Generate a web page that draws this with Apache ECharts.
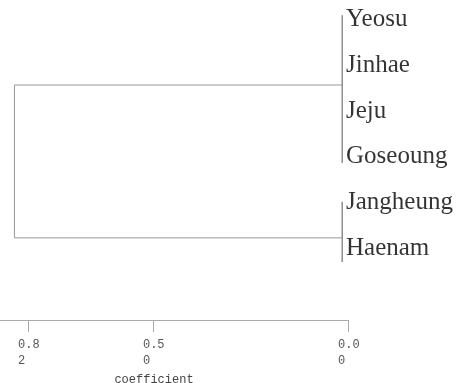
<!DOCTYPE html>
<html>
<head>
<meta charset="utf-8">
<script src="https://cdn.jsdelivr.net/npm/echarts@6/dist/echarts.min.js"></script>
<style>
html,body{margin:0;padding:0;background:#fff;}
#chart{width:458px;height:383px;}
</style>
</head>
<body>
<div id="chart"></div>
<script>
// Leaves (top to bottom) and their row index on the leaf axis
const leafLabels = ['Yeosu', 'Jinhae', 'Jeju', 'Goseoung', 'Jangheung', 'Haenam'];
const leafRows = [0, 1, 2, 3, 4, 5];
const leafCoef = [0, 0, 0, 0, 0, 0];

// First-level clusters: merge coefficient and extent on the leaf axis
const clusterCoef = [0.015, 0.015];
const clusterRowFrom = [-0.08, 4.01];
const clusterRowTo = [3.16, 5.33];
const clusterJoinRow = [1.45, 4.80];

// Root merge coefficient
const rootCoef = 0.855;

// Axis ticks
const tickValues = [0, 0.5, 0.82];
const axisMax = 0.892;
const axisName = 'coefficient';

const series = [];
function seg(p1, p2, color) {
  series.push({
    type: 'line', data: [p1, p2], symbol: 'none', silent: true,
    lineStyle: { color: color, width: 1 }, animation: false, z: 2
  });
}
for (let i = 0; i < clusterCoef.length; i++) {
  seg([clusterCoef[i], clusterRowFrom[i]], [clusterCoef[i], clusterRowTo[i]], '#555');
  seg([clusterCoef[i], clusterJoinRow[i]], [rootCoef, clusterJoinRow[i]], '#999');
}
seg([rootCoef, clusterJoinRow[0]], [rootCoef, clusterJoinRow[clusterJoinRow.length - 1]], '#999');

series.push({
  type: 'scatter', symbolSize: 0, silent: true, animation: false,
  data: leafLabels.map((n, i) => ({ name: n, value: [leafCoef[i], leafRows[i]] })),
  label: {
    show: true, position: 'right', distance: 0, offset: [-2, 1],
    formatter: p => p.name,
    fontFamily: '"Liberation Serif", "Times New Roman", serif',
    fontSize: 25, color: '#000'
  }
});

const chart = echarts.init(document.getElementById('chart'), null, { renderer: 'canvas' });
chart.setOption({
  backgroundColor: '#fff',
  animation: false,
  grid: { left: 0, width: 348, top: -4, bottom: 63, containLabel: false, outerBoundsMode: 'none' },
  xAxis: {
    type: 'value', inverse: true, min: 0, max: axisMax, position: 'bottom',
    name: axisName, nameLocation: 'middle', nameGap: 47,
    nameTextStyle: { fontFamily: '"Liberation Mono", monospace', fontSize: 12, color: '#444', padding: [0, 40, 0, 0] },
    splitLine: { show: false },
    axisLine: { show: true, onZero: false, lineStyle: { color: '#aaa', width: 1 } },
    axisTick: { show: true, customValues: tickValues, length: 12, inside: false, lineStyle: { color: '#aaa' } },
    axisLabel: {
      show: true, customValues: tickValues, margin: 17, align: 'left', padding: [0, 0, 0, -10],
      formatter: v => v.toFixed(2),
      width: 22, overflow: 'breakAll', lineHeight: 16,
      fontFamily: '"Liberation Mono", monospace', fontSize: 12, color: '#555'
    }
  },
  yAxis: {
    type: 'value', inverse: true, min: -0.5, max: 6.6, show: false
  },
  series: series
});
</script>
</body>
</html>
